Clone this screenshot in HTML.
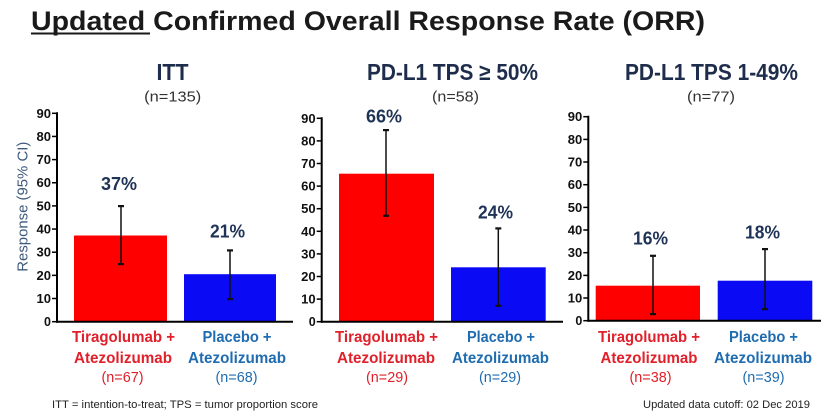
<!DOCTYPE html>
<html>
<head>
<meta charset="utf-8">
<style>
html,body{margin:0;padding:0;background:#fff;}
svg{display:block;}
text{font-family:"Liberation Sans",Arial,sans-serif;}
</style>
</head>
<body>
<svg width="821" height="419" viewBox="0 0 821 419" xmlns="http://www.w3.org/2000/svg">
<rect width="821" height="419" fill="#fff"/>

<!-- Title -->
<text x="31" y="30" font-size="27" font-weight="bold" fill="#1a1a1a" textLength="674" lengthAdjust="spacingAndGlyphs">Updated Confirmed Overall Response Rate (ORR)</text>
<rect x="31" y="32.5" width="119" height="2" fill="#1a1a1a"/>

<!-- Panel headers -->
<g font-weight="bold" fill="#1f2d4d" font-size="23">
<text x="172.5" y="80" text-anchor="middle" textLength="32" lengthAdjust="spacingAndGlyphs">ITT</text>
<text x="452.5" y="80" text-anchor="middle" textLength="171" lengthAdjust="spacingAndGlyphs">PD-L1 TPS ≥ 50%</text>
<text x="711.5" y="80" text-anchor="middle" textLength="173" lengthAdjust="spacingAndGlyphs">PD-L1 TPS 1-49%</text>
</g>
<g fill="#333" font-size="15">
<text x="172.7" y="101.5" text-anchor="middle" textLength="57" lengthAdjust="spacingAndGlyphs">(n=135)</text>
<text x="455.5" y="101.5" text-anchor="middle" textLength="47" lengthAdjust="spacingAndGlyphs">(n=58)</text>
<text x="711" y="101.5" text-anchor="middle" textLength="48" lengthAdjust="spacingAndGlyphs">(n=77)</text>
</g>

<!-- Y axis label -->
<text transform="translate(27.5,206.7) rotate(-90)" text-anchor="middle" font-size="14.5" fill="#3e5a7e" textLength="130" lengthAdjust="spacingAndGlyphs">Response (95% CI)</text>

<!-- Panel 1 -->
<rect x="74" y="235.5" width="93" height="86.2" fill="#ff0000"/>
<rect x="184" y="274.2" width="92" height="47.5" fill="#0a0af5"/>
<g stroke="#111" stroke-width="1.5">
<line x1="121" y1="206" x2="121" y2="264"/>
<line x1="230" y1="250.3" x2="230" y2="299"/>
</g>
<g fill="#111">
<rect x="118" y="205" width="6" height="2.2"/>
<rect x="118" y="263" width="6" height="2.2"/>
<rect x="227" y="249.3" width="6" height="2.2"/>
<rect x="227" y="298" width="6" height="2.2"/>
</g>
<g stroke="#000" stroke-width="2">
<line x1="57" y1="112.3" x2="57" y2="322.7"/>
<line x1="56" y1="321.7" x2="293" y2="321.7"/>
</g>
<g stroke="#000" stroke-width="1.5">
<line x1="52" y1="113.3" x2="57" y2="113.3"/>
<line x1="52" y1="136.45" x2="57" y2="136.45"/>
<line x1="52" y1="159.6" x2="57" y2="159.6"/>
<line x1="52" y1="182.75" x2="57" y2="182.75"/>
<line x1="52" y1="205.9" x2="57" y2="205.9"/>
<line x1="52" y1="229.05" x2="57" y2="229.05"/>
<line x1="52" y1="252.2" x2="57" y2="252.2"/>
<line x1="52" y1="275.35" x2="57" y2="275.35"/>
<line x1="52" y1="298.5" x2="57" y2="298.5"/>
<line x1="52" y1="321.7" x2="57" y2="321.7"/>
</g>
<g font-size="12.5" font-weight="bold" fill="#111" text-anchor="end">
<text x="51" y="117.8" textLength="14.5" lengthAdjust="spacingAndGlyphs">90</text>
<text x="51" y="140.9" textLength="14.5" lengthAdjust="spacingAndGlyphs">80</text>
<text x="51" y="164.1" textLength="14.5" lengthAdjust="spacingAndGlyphs">70</text>
<text x="51" y="187.2" textLength="14.5" lengthAdjust="spacingAndGlyphs">60</text>
<text x="51" y="210.4" textLength="14.5" lengthAdjust="spacingAndGlyphs">50</text>
<text x="51" y="233.5" textLength="14.5" lengthAdjust="spacingAndGlyphs">40</text>
<text x="51" y="256.7" textLength="14.5" lengthAdjust="spacingAndGlyphs">30</text>
<text x="51" y="279.8" textLength="14.5" lengthAdjust="spacingAndGlyphs">20</text>
<text x="51" y="303" textLength="14.5" lengthAdjust="spacingAndGlyphs">10</text>
<text x="51" y="326.2">0</text>
</g>

<!-- Panel 2 -->
<rect x="339" y="173.7" width="95" height="148" fill="#ff0000"/>
<rect x="451" y="267.3" width="94.7" height="54.4" fill="#0a0af5"/>
<g stroke="#111" stroke-width="1.5">
<line x1="386" y1="130" x2="386" y2="215.7"/>
<line x1="498.3" y1="228.3" x2="498.3" y2="305.7"/>
</g>
<g fill="#111">
<rect x="383" y="129" width="6" height="2.2"/>
<rect x="383" y="214.7" width="6" height="2.2"/>
<rect x="495.3" y="227.3" width="6" height="2.2"/>
<rect x="495.3" y="304.7" width="6" height="2.2"/>
</g>
<g stroke="#000" stroke-width="2">
<line x1="321.7" y1="117.3" x2="321.7" y2="322.7"/>
<line x1="320.7" y1="321.7" x2="563" y2="321.7"/>
</g>
<g stroke="#000" stroke-width="1.5">
<line x1="316.7" y1="118.3" x2="321.7" y2="118.3"/>
<line x1="316.7" y1="140.9" x2="321.7" y2="140.9"/>
<line x1="316.7" y1="163.5" x2="321.7" y2="163.5"/>
<line x1="316.7" y1="186.1" x2="321.7" y2="186.1"/>
<line x1="316.7" y1="208.7" x2="321.7" y2="208.7"/>
<line x1="316.7" y1="231.3" x2="321.7" y2="231.3"/>
<line x1="316.7" y1="253.9" x2="321.7" y2="253.9"/>
<line x1="316.7" y1="276.5" x2="321.7" y2="276.5"/>
<line x1="316.7" y1="299.1" x2="321.7" y2="299.1"/>
<line x1="316.7" y1="321.7" x2="321.7" y2="321.7"/>
</g>
<g font-size="12.5" font-weight="bold" fill="#111" text-anchor="end">
<text x="315.7" y="122.8" textLength="14.5" lengthAdjust="spacingAndGlyphs">90</text>
<text x="315.7" y="145.4" textLength="14.5" lengthAdjust="spacingAndGlyphs">80</text>
<text x="315.7" y="168" textLength="14.5" lengthAdjust="spacingAndGlyphs">70</text>
<text x="315.7" y="190.6" textLength="14.5" lengthAdjust="spacingAndGlyphs">60</text>
<text x="315.7" y="213.2" textLength="14.5" lengthAdjust="spacingAndGlyphs">50</text>
<text x="315.7" y="235.8" textLength="14.5" lengthAdjust="spacingAndGlyphs">40</text>
<text x="315.7" y="258.4" textLength="14.5" lengthAdjust="spacingAndGlyphs">30</text>
<text x="315.7" y="281" textLength="14.5" lengthAdjust="spacingAndGlyphs">20</text>
<text x="315.7" y="303.6" textLength="14.5" lengthAdjust="spacingAndGlyphs">10</text>
<text x="315.7" y="326.2">0</text>
</g>

<!-- Panel 3 -->
<rect x="595.7" y="285.7" width="104.3" height="35" fill="#ff0000"/>
<rect x="717.7" y="280.7" width="94.6" height="40" fill="#0a0af5"/>
<g stroke="#111" stroke-width="1.5">
<line x1="653" y1="255.7" x2="653" y2="314"/>
<line x1="765" y1="249" x2="765" y2="309"/>
</g>
<g fill="#111">
<rect x="650" y="254.7" width="6" height="2.2"/>
<rect x="650" y="313" width="6" height="2.2"/>
<rect x="762" y="248" width="6" height="2.2"/>
<rect x="762" y="308" width="6" height="2.2"/>
</g>
<g stroke="#000" stroke-width="2">
<line x1="588.3" y1="115.7" x2="588.3" y2="321.7"/>
<line x1="587.3" y1="320.7" x2="821" y2="320.7"/>
</g>
<g stroke="#000" stroke-width="1.5">
<line x1="583.3" y1="116.7" x2="588.3" y2="116.7"/>
<line x1="583.3" y1="139.4" x2="588.3" y2="139.4"/>
<line x1="583.3" y1="162" x2="588.3" y2="162"/>
<line x1="583.3" y1="184.7" x2="588.3" y2="184.7"/>
<line x1="583.3" y1="207.4" x2="588.3" y2="207.4"/>
<line x1="583.3" y1="230" x2="588.3" y2="230"/>
<line x1="583.3" y1="252.7" x2="588.3" y2="252.7"/>
<line x1="583.3" y1="275.4" x2="588.3" y2="275.4"/>
<line x1="583.3" y1="298" x2="588.3" y2="298"/>
<line x1="583.3" y1="320.7" x2="588.3" y2="320.7"/>
</g>
<g font-size="12.5" font-weight="bold" fill="#111" text-anchor="end">
<text x="582.3" y="121.2" textLength="14.5" lengthAdjust="spacingAndGlyphs">90</text>
<text x="582.3" y="143.9" textLength="14.5" lengthAdjust="spacingAndGlyphs">80</text>
<text x="582.3" y="166.5" textLength="14.5" lengthAdjust="spacingAndGlyphs">70</text>
<text x="582.3" y="189.2" textLength="14.5" lengthAdjust="spacingAndGlyphs">60</text>
<text x="582.3" y="211.9" textLength="14.5" lengthAdjust="spacingAndGlyphs">50</text>
<text x="582.3" y="234.5" textLength="14.5" lengthAdjust="spacingAndGlyphs">40</text>
<text x="582.3" y="257.2" textLength="14.5" lengthAdjust="spacingAndGlyphs">30</text>
<text x="582.3" y="279.9" textLength="14.5" lengthAdjust="spacingAndGlyphs">20</text>
<text x="582.3" y="302.5" textLength="14.5" lengthAdjust="spacingAndGlyphs">10</text>
<text x="582.3" y="325.2">0</text>
</g>

<!-- Value labels -->
<g font-size="18" font-weight="bold" fill="#1f3356" text-anchor="middle">
<text x="119" y="190" textLength="36" lengthAdjust="spacingAndGlyphs">37%</text>
<text x="227.5" y="237.7" textLength="35" lengthAdjust="spacingAndGlyphs">21%</text>
<text x="384" y="122.7" textLength="36" lengthAdjust="spacingAndGlyphs">66%</text>
<text x="495.5" y="218.3" textLength="35" lengthAdjust="spacingAndGlyphs">24%</text>
<text x="650.5" y="244.3" textLength="35" lengthAdjust="spacingAndGlyphs">16%</text>
<text x="762.5" y="238.3" textLength="35" lengthAdjust="spacingAndGlyphs">18%</text>
</g>

<!-- Bottom group labels -->
<g font-size="15.5" font-weight="bold" text-anchor="middle">
<g fill="#e0202a">
<text x="123.5" y="342" textLength="103" lengthAdjust="spacingAndGlyphs">Tiragolumab +</text>
<text x="123" y="363" textLength="98" lengthAdjust="spacingAndGlyphs">Atezolizumab</text>
<text x="386.5" y="342" textLength="103" lengthAdjust="spacingAndGlyphs">Tiragolumab +</text>
<text x="386" y="363" textLength="98" lengthAdjust="spacingAndGlyphs">Atezolizumab</text>
<text x="649" y="342" textLength="102" lengthAdjust="spacingAndGlyphs">Tiragolumab +</text>
<text x="649" y="363" textLength="97" lengthAdjust="spacingAndGlyphs">Atezolizumab</text>
</g>
<g fill="#1f6cb0">
<text x="237" y="342" textLength="69" lengthAdjust="spacingAndGlyphs">Placebo +</text>
<text x="237" y="363" textLength="98" lengthAdjust="spacingAndGlyphs">Atezolizumab</text>
<text x="501" y="342" textLength="68" lengthAdjust="spacingAndGlyphs">Placebo +</text>
<text x="500.5" y="363" textLength="97" lengthAdjust="spacingAndGlyphs">Atezolizumab</text>
<text x="763.5" y="342" textLength="69" lengthAdjust="spacingAndGlyphs">Placebo +</text>
<text x="763" y="363" textLength="98" lengthAdjust="spacingAndGlyphs">Atezolizumab</text>
</g>
</g>
<g font-size="14.5" text-anchor="middle">
<text x="122.5" y="382" fill="#e0202a" textLength="42" lengthAdjust="spacingAndGlyphs">(n=67)</text>
<text x="236.5" y="382" fill="#1f6cb0" textLength="42" lengthAdjust="spacingAndGlyphs">(n=68)</text>
<text x="387" y="382" fill="#e0202a" textLength="42" lengthAdjust="spacingAndGlyphs">(n=29)</text>
<text x="500" y="382" fill="#1f6cb0" textLength="42" lengthAdjust="spacingAndGlyphs">(n=29)</text>
<text x="650.5" y="382" fill="#e0202a" textLength="42" lengthAdjust="spacingAndGlyphs">(n=38)</text>
<text x="763.5" y="382" fill="#1f6cb0" textLength="42" lengthAdjust="spacingAndGlyphs">(n=39)</text>
</g>

<!-- Footer -->
<text x="52" y="408" font-size="11" fill="#222" textLength="266" lengthAdjust="spacingAndGlyphs">ITT = intention-to-treat; TPS = tumor proportion score</text>
<text x="643" y="408" font-size="11" fill="#222" textLength="167" lengthAdjust="spacingAndGlyphs">Updated data cutoff: 02 Dec 2019</text>
</svg>
</body>
</html>
